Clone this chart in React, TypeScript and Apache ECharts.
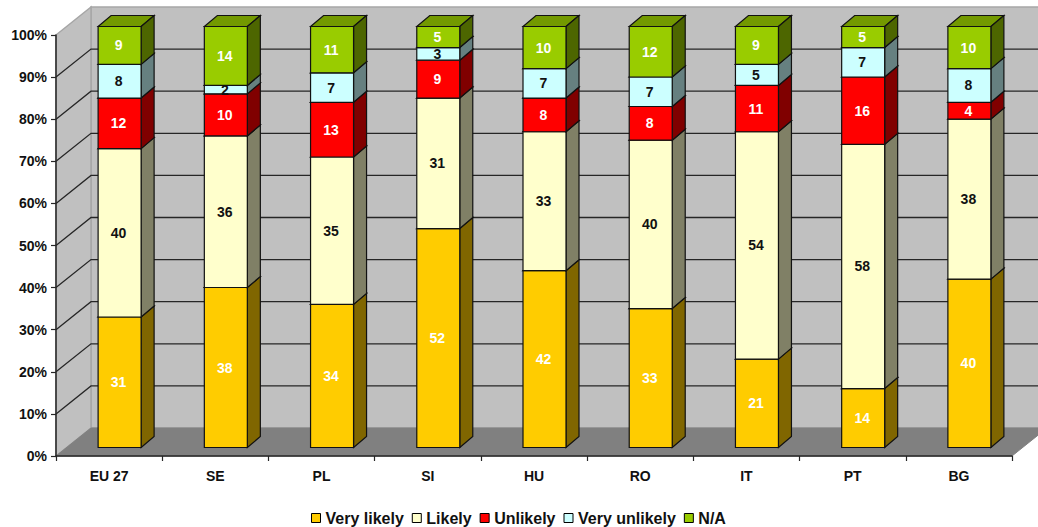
import React, { useEffect, useRef } from "react";
import * as echarts from "echarts";

const categories = ["EU 27", "SE", "PL", "SI", "HU", "RO", "IT", "PT", "BG"];
const veryLikely = [31, 38, 34, 52, 42, 33, 21, 14, 40];
const likely = [40, 36, 35, 31, 33, 40, 54, 58, 38];
const unlikely = [12, 10, 13, 9, 8, 8, 11, 16, 4];
const veryUnlikely = [8, 2, 7, 3, 7, 7, 5, 7, 8];
const notAvailable = [9, 14, 11, 5, 10, 12, 9, 5, 10];
const gridTicks = [10, 20, 30, 40, 50, 60, 70, 80, 90];

const seriesNames = ["Very likely", "Likely", "Unlikely", "Very unlikely", "N/A"];
const seriesValues = [veryLikely, likely, unlikely, veryUnlikely, notAvailable];
const frontColors = ["#FFCC00", "#FFFFCC", "#FF0000", "#CCFFFF", "#99CC00"];
const sideColors = ["#806600", "#808066", "#800000", "#668080", "#4D6600"];
const topColors = ["#BF9900", "#BFBF99", "#BF0000", "#99BFBF", "#739900"];
const labelColors = ["#FFFFFF", "#111111", "#FFFFFF", "#111111", "#FFFFFF"];

const FONT = "'Liberation Sans', Arial, sans-serif";
const WALL_DX = 35;
const WALL_DY = -28;
const BAR_DX = 13;
const BAR_DY = -11;
const BAR_W = 43;
const BAR_SHIFT_X = 10.5;
const BAR_SHIFT_Y = -8.5;

function wallsRender(params: any) {
  const c = params.coordSys;
  const l = c.x, t = c.y, r = c.x + c.width, b = c.y + c.height;
  const wallFill = "#C0C0C0";
  const edge = "#A6A6A6";
  return {
    type: "group",
    children: [
      { type: "polygon", shape: { points: [[l + WALL_DX, t + WALL_DY], [r + WALL_DX, t + WALL_DY], [r + WALL_DX, b + WALL_DY], [l + WALL_DX, b + WALL_DY]] }, style: { fill: wallFill, stroke: edge, lineWidth: 1.5 } },
      { type: "polygon", shape: { points: [[l, t], [l + WALL_DX, t + WALL_DY], [l + WALL_DX, b + WALL_DY], [l, b]] }, style: { fill: wallFill, stroke: edge, lineWidth: 1.5 } },
      { type: "polygon", shape: { points: [[l, b], [l + WALL_DX, b + WALL_DY], [r + WALL_DX, b + WALL_DY], [r, b]] }, style: { fill: "#808080", stroke: "#808080", lineWidth: 1 } },
    ],
  };
}

function gridRender(params: any, api: any) {
  const c = params.coordSys;
  const y = api.coord([0, api.value(0)])[1];
  const l = c.x, r = c.x + c.width;
  const style = { stroke: "#262626", lineWidth: 1.3, fill: "none" };
  return {
    type: "polyline",
    shape: { points: [[l, y], [l + WALL_DX, y + WALL_DY], [r + WALL_DX, y + WALL_DY]] },
    style,
  };
}

function barRender(seriesIndex: number) {
  return (_params: any, api: any) => {
    const cat = api.value(0);
    const from = api.value(1);
    const to = api.value(2);
    const p0 = api.coord([cat, from]);
    const p1 = api.coord([cat, to]);
    const x = p0[0] + BAR_SHIFT_X - BAR_W / 2;
    const yb = p0[1] + BAR_SHIFT_Y;
    const yt = p1[1] + BAR_SHIFT_Y;
    const border = { stroke: "#111111", lineWidth: 1.2 };
    return {
      type: "group",
      children: [
        { type: "polygon", z2: 1, shape: { points: [[x, yt], [x + BAR_DX, yt + BAR_DY], [x + BAR_W + BAR_DX, yt + BAR_DY], [x + BAR_W, yt]] }, style: { fill: topColors[seriesIndex], ...border } },
        { type: "polygon", z2: 1, shape: { points: [[x + BAR_W, yb], [x + BAR_W + BAR_DX, yb + BAR_DY], [x + BAR_W + BAR_DX, yt + BAR_DY], [x + BAR_W, yt]] }, style: { fill: sideColors[seriesIndex], ...border } },
        { type: "rect", z2: 1, shape: { x, y: yt, width: BAR_W, height: yb - yt }, style: { fill: frontColors[seriesIndex], ...border } },
        { type: "text", z2: 10, x: x + BAR_W / 2 - 1, y: (yt + yb) / 2, style: { text: String(to - from), fill: labelColors[seriesIndex], font: `bold 14px ${FONT}`, align: "center", verticalAlign: "middle" } },
      ],
    };
  };
}

export default function App() {
  const ref = useRef<HTMLDivElement>(null);
  useEffect(() => {
    document.body.style.margin = "0";
    const chart = echarts.init(ref.current!, undefined, { renderer: "svg" });
    const running = categories.map(() => 0);
    const barSeries = seriesNames.map((name, s) => {
      const data = categories.map((_, i) => {
        const from = running[i];
        running[i] += seriesValues[s][i];
        return [i, from, running[i]];
      });
      return {
        type: "custom",
        name,
        z: 5,
        itemStyle: { color: frontColors[s] },
        renderItem: barRender(s),
        encode: { x: 0, y: [1, 2] },
        data,
      };
    });
    chart.setOption({
      animation: false,
      backgroundColor: "#FFFFFF",
      textStyle: { fontFamily: FONT },
      grid: { left: 56, right: 26, top: 35, bottom: 71 },
      legend: {
        data: seriesNames,
        left: 311,
        top: 510,
        padding: 0,
        icon: "rect",
        itemWidth: 9,
        itemHeight: 9,
        itemGap: 8,
        itemStyle: { borderColor: "#000000", borderWidth: 1 },
        textStyle: { fontFamily: FONT, fontWeight: "bold", fontSize: 16, color: "#111111" },
        selectedMode: false,
      },
      xAxis: {
        type: "category",
        data: categories,
        boundaryGap: true,
        axisLine: { lineStyle: { color: "#262626", width: 1.5 } },
        axisTick: { show: true, alignWithLabel: false, length: 5, lineStyle: { color: "#262626", width: 1.2 } },
        axisLabel: { fontFamily: FONT, fontWeight: "bold", fontSize: 14, color: "#111111", margin: 13 },
        z: 3,
      },
      yAxis: {
        type: "value",
        min: 0,
        max: 100,
        interval: 10,
        splitLine: { show: false },
        axisLine: { show: true, lineStyle: { color: "#262626", width: 1.5 } },
        axisTick: { show: true, length: 5, lineStyle: { color: "#262626", width: 1.2 } },
        axisLabel: { fontFamily: FONT, fontWeight: "bold", fontSize: 14, color: "#111111", margin: 9, formatter: "{value}%" },
        z: 3,
      },
      series: [
        { type: "custom", name: "walls", z: 1, silent: true, renderItem: wallsRender, encode: { x: 0, y: 1 }, data: [[0, 0]] },
        { type: "custom", name: "gridlines", z: 2, silent: true, renderItem: gridRender, encode: { y: 0 }, data: gridTicks.map((t) => [t]) },
        ...barSeries,
      ],
    });
    return () => chart.dispose();
  }, []);
  return <div ref={ref} style={{ width: 1038, height: 527 }} />;
}
